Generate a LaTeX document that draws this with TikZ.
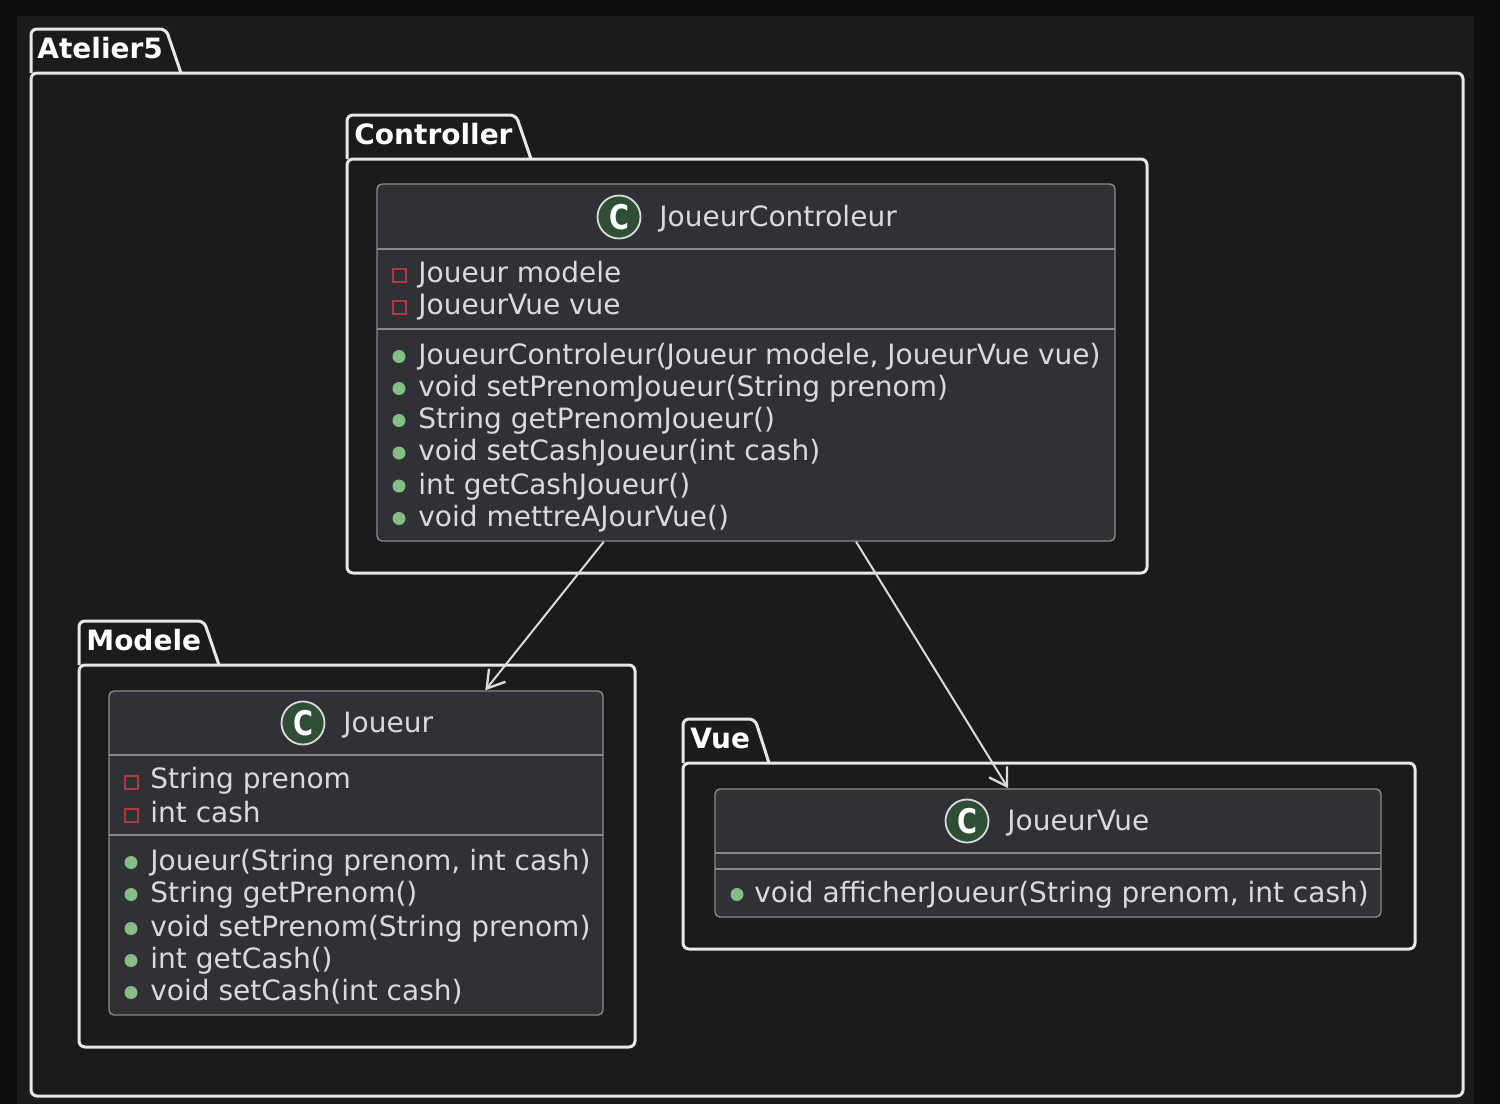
\documentclass[tikz,border=0pt]{standalone}
\usepackage{fontspec}
\setmainfont{DejaVu Sans}
\newfontfamily\spotfont[FakeStretch=0.8]{DejaVu Sans}
\usetikzlibrary{arrows.meta}
\definecolor{outerbg}{HTML}{0D0D0D}
\definecolor{innerbg}{HTML}{1B1B1B}
\definecolor{classbg}{HTML}{303136}
\definecolor{classline}{HTML}{8A8A8A}
\definecolor{pkgline}{HTML}{E8E8E8}
\definecolor{privline}{HTML}{B03A3E}
\definecolor{pubfill}{HTML}{84BE84}
\definecolor{spotfill}{HTML}{2F4F34}
\definecolor{memtext}{HTML}{DADADA}
\tikzset{
  pkgbox/.style={draw=pkgline,line width=1.5pt,rounded corners=3pt,line join=round},
  pkglabel/.style={anchor=west,inner sep=0pt,text=white,font=\bfseries\fontsize{14}{16}\selectfont},
  classbox/.style={draw=classline,fill=classbg,line width=0.7pt,rounded corners=2.5pt,inner sep=0pt},
  classline/.style={draw=classline,line width=0.7pt},
  classname/.style={anchor=base west,inner sep=0pt,text=memtext,font=\fontsize{14}{16}\selectfont},
  member/.style={anchor=base west,inner sep=0pt,text=memtext,font=\fontsize{14}{16}\selectfont},
  spot/.style={circle,draw=memtext,fill=spotfill,line width=0.9pt,minimum size=21.5pt,inner sep=0pt,text=white,font=\spotfont\bfseries\fontsize{17}{18}\selectfont},
  priv/.style={draw=privline,line width=1pt,minimum size=6.5pt,inner sep=0pt},
  pub/.style={circle,fill=pubfill,minimum size=6.5pt,inner sep=0pt},
  depends/.style={draw=memtext,line width=1pt,-{Straight Barb[length=8.5pt,width=10.5pt,line width=1.2pt]}}
}
\begin{document}
\begin{tikzpicture}[x=0.5pt,y=-0.5pt]
  \fill[outerbg] (0,0) rectangle (1500,1104);
  \fill[innerbg] (17,16) rectangle (1474,1104);
  \useasboundingbox (0,0) rectangle (1500,1104);

  % packages
  \draw[pkgbox] (31,73) -- (31,29) -- (166,29) -- (181,73);
  \draw[pkgbox] (31,73) rectangle (1463,1096);
  \node[pkglabel] (atelier) at (37,48) {Atelier5};

  \draw[pkgbox] (347,159) -- (347,115) -- (516,115) -- (531,159);
  \draw[pkgbox] (347,159) rectangle (1147,573);
  \node[pkglabel] (controller) at (354,134) {Controller};

  \draw[pkgbox] (79,665) -- (79,621) -- (204,621) -- (219,665);
  \draw[pkgbox] (79,665) rectangle (635,1047);
  \node[pkglabel] (modele) at (86,640) {Modele};

  \draw[pkgbox] (683,763) -- (683,719) -- (755,719) -- (769,763);
  \draw[pkgbox] (683,763) rectangle (1415,949);
  \node[pkglabel] (vue) at (690,738) {Vue};

  % JoueurControleur
  \node[classbox,minimum width=369pt,minimum height=178.5pt] (ctrl) at (746,362.5) {};
  \draw[classline] (377,249) -- (1115,249);
  \draw[classline] (377,329) -- (1115,329);
  \node[spot] (ctrlspot) at (619,217) {C};
  \node[classname] (ctrlname) at (659,226) {JoueurControleur};
  \node[priv] (ctrlp1) at (399,275) {};
  \node[member] (ctrlm1) at (418,282) {Joueur modele};
  \node[priv] (ctrlp2) at (399,307) {};
  \node[member] (ctrlm2) at (418,314) {JoueurVue vue};
  \node[pub] (ctrlq1) at (399,356.5) {};
  \node[member] (ctrlo1) at (418,364) {JoueurControleur(Joueur modele, JoueurVue vue)};
  \node[pub] (ctrlq2) at (399,388.5) {};
  \node[member] (ctrlo2) at (418,396) {void setPrenomJoueur(String prenom)};
  \node[pub] (ctrlq3) at (399,420.5) {};
  \node[member] (ctrlo3) at (418,428) {String getPrenomJoueur()};
  \node[pub] (ctrlq4) at (399,453) {};
  \node[member] (ctrlo4) at (418,460.5) {void setCashJoueur(int cash)};
  \node[pub] (ctrlq5) at (399,486) {};
  \node[member] (ctrlo5) at (418,494) {int getCashJoueur()};
  \node[pub] (ctrlq6) at (399,518.5) {};
  \node[member] (ctrlo6) at (418,526) {void mettreAJourVue()};

  % Joueur
  \node[classbox,minimum width=247pt,minimum height=162pt] (joueur) at (356,853) {};
  \draw[classline] (109,755) -- (603,755);
  \draw[classline] (109,835) -- (603,835);
  \node[spot] (joueurspot) at (303,723) {C};
  \node[classname] (joueurname) at (343,732) {Joueur};
  \node[priv] (joueurp1) at (131,782) {};
  \node[member] (joueurm1) at (150,788) {String prenom};
  \node[priv] (joueurp2) at (131,815) {};
  \node[member] (joueurm2) at (150,822) {int cash};
  \node[pub] (joueurq1) at (131,862.5) {};
  \node[member] (joueuro1) at (150,870) {Joueur(String prenom, int cash)};
  \node[pub] (joueurq2) at (131,894.5) {};
  \node[member] (joueuro2) at (150,902) {String getPrenom()};
  \node[pub] (joueurq3) at (131,928.5) {};
  \node[member] (joueuro3) at (150,936) {void setPrenom(String prenom)};
  \node[pub] (joueurq4) at (131,960.5) {};
  \node[member] (joueuro4) at (150,968) {int getCash()};
  \node[pub] (joueurq5) at (131,992.5) {};
  \node[member] (joueuro5) at (150,1000) {void setCash(int cash)};

  % JoueurVue
  \node[classbox,minimum width=333pt,minimum height=64pt] (jvue) at (1048,853) {};
  \draw[classline] (715,853) -- (1381,853);
  \draw[classline] (715,869) -- (1381,869);
  \node[spot] (jvuespot) at (967,821) {C};
  \node[classname] (jvuename) at (1007,830) {JoueurVue};
  \node[pub] (jvueq1) at (737,894.5) {};
  \node[member] (jvueo1) at (754,902) {void afficherJoueur(String prenom, int cash)};

  % relations
  \draw[depends] (ctrl) -- (joueur);
  \draw[depends] (ctrl) -- (jvue);
\end{tikzpicture}
\end{document}
